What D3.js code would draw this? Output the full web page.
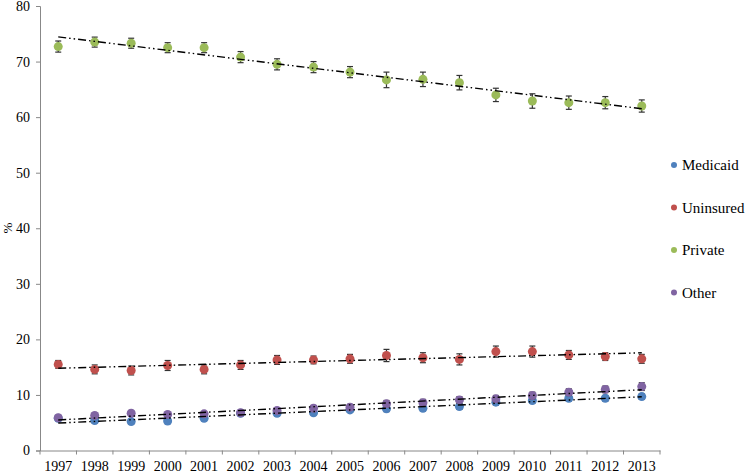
<!DOCTYPE html>
<html><head><meta charset="utf-8">
<script src="https://cdn.jsdelivr.net/npm/d3@7"></script>
<style>body{margin:0;background:#fff}svg{display:block}</style>
</head><body><svg id="c" width="750" height="473"></svg>
<script>
const years = ["1997","1998","1999","2000","2001","2002","2003","2004","2005","2006","2007","2008","2009","2010","2011","2012","2013"];
const medicaid = [5.8,5.4,5.2,5.3,5.8,6.7,6.7,6.8,7.3,7.5,7.6,7.9,8.7,9.0,9.4,9.4,9.7];
const medicaidErr = [0.4,0.4,0.4,0.4,0.4,0.4,0.4,0.4,0.4,0.5,0.5,0.5,0.5,0.5,0.5,0.5,0.5];
const uninsured = [15.5,14.6,14.4,15.3,14.6,15.4,16.3,16.3,16.5,17.1,16.7,16.4,17.8,17.8,17.2,16.9,16.5];
const uninsuredErr = [0.7,0.8,0.8,0.9,0.8,0.8,0.8,0.7,0.8,1.1,0.9,1.0,1.0,1.0,0.8,0.7,0.8];
const privateIns = [72.7,73.5,73.3,72.5,72.5,70.8,69.5,69.0,68.1,66.7,66.8,66.2,64.0,62.9,62.6,62.6,62.0];
const privateErr = [1.0,0.9,0.9,0.9,0.9,1.0,1.0,1.0,1.0,1.4,1.3,1.3,1.2,1.3,1.2,1.1,1.1];
const other = [5.9,6.3,6.7,6.5,6.6,6.8,7.2,7.6,7.8,8.4,8.6,9.1,9.3,9.9,10.5,11.0,11.5];
const otherErr = [0.4,0.4,0.5,0.4,0.4,0.4,0.5,0.5,0.5,0.6,0.6,0.6,0.6,0.6,0.6,0.6,0.7];
const seriesNames = ["Medicaid","Uninsured","Private","Other"];
const colors = ["#4F81BD","#C0504D","#9BBB59","#8064A2"];
const yTicks = [0,10,20,30,40,50,60,70,80];

const FONT = "'Liberation Serif', Tinos, 'Times New Roman', 'DejaVu Serif', serif";

const series = [
  {name:seriesNames[0], values:medicaid, err:medicaidErr, color:colors[0]},
  {name:seriesNames[1], values:uninsured, err:uninsuredErr, color:colors[1]},
  {name:seriesNames[2], values:privateIns, err:privateErr, color:colors[2]},
  {name:seriesNames[3], values:other, err:otherErr, color:colors[3]}
];

const svg = d3.select("#c");
const mLeft = 40, mRight = 660, mTop = 6, mBottom = 450.5;
const x = d3.scaleBand().domain(years).range([mLeft, mRight]);
const y = d3.scaleLinear().domain([0,80]).range([mBottom, mTop]);
const cx = d => x(d) + x.bandwidth()/2;

// y axis
const yAxis = svg.append("g").attr("transform",`translate(${mLeft},0)`)
  .call(d3.axisLeft(y).tickValues(yTicks).tickSize(4).tickPadding(6));
yAxis.attr("font-family", FONT).attr("font-size", 14);
yAxis.select(".domain").attr("stroke","#888");
yAxis.selectAll(".tick line").attr("stroke","#888");
yAxis.selectAll(".tick text").attr("fill","#000");

// x axis
const xAxis = svg.append("g").attr("transform",`translate(0,${mBottom})`)
  .call(d3.axisBottom(x).tickSize(0).tickPadding(11));
xAxis.attr("font-family", FONT).attr("font-size", 14);
xAxis.select(".domain").attr("stroke","#888");
xAxis.selectAll(".tick line").remove();
xAxis.selectAll(".tick text").attr("fill","#000");
const bounds = years.map(d => x(d)).concat([mRight]);
svg.append("g").selectAll("line").data(bounds).join("line")
  .attr("x1",d=>d).attr("x2",d=>d).attr("y1",mBottom).attr("y2",mBottom+4)
  .attr("stroke","#888");

// y label
svg.append("text").attr("transform",`translate(12,228) rotate(-90)`)
  .attr("text-anchor","middle").attr("font-family",FONT).attr("font-size",13).text("%");

// trendlines (least squares)
function fit(vals){
  const n = vals.length; const xs = d3.range(n);
  const mx = d3.mean(xs), my = d3.mean(vals);
  let num=0, den=0;
  xs.forEach((xi,i)=>{num+=(xi-mx)*(vals[i]-my); den+=(xi-mx)*(xi-mx);});
  const b = num/den, a = my - b*mx;
  return [a, a + b*(n-1)];
}

const g = svg.append("g");
series.forEach(s => {
  const eb = g.append("g");
  s.values.forEach((v,i) => {
    const px = cx(years[i]);
    const y1 = y(v - s.err[i]), y2 = y(v + s.err[i]);
    eb.append("line").attr("x1",px).attr("x2",px).attr("y1",y1).attr("y2",y2).attr("stroke","#333").attr("stroke-width",1.2);
    eb.append("line").attr("x1",px-3).attr("x2",px+3).attr("y1",y1).attr("y2",y1).attr("stroke","#333").attr("stroke-width",1.2);
    eb.append("line").attr("x1",px-3).attr("x2",px+3).attr("y1",y2).attr("y2",y2).attr("stroke","#333").attr("stroke-width",1.2);
  });
  g.append("g").selectAll("circle").data(s.values).join("circle")
    .attr("cx",(d,i)=>cx(years[i])).attr("cy",d=>y(d)).attr("r",4.5).attr("fill",s.color);
});
series.forEach(s => {
  const [a,b] = fit(s.values);
  g.append("line").attr("x1",cx(years[0])).attr("x2",cx(years[years.length-1]))
    .attr("y1",y(a)).attr("y2",y(b)).attr("stroke","#000").attr("stroke-width",1.4)
    .attr("stroke-dasharray","8,3,1.5,3,1.5,3");
});

// legend
const lg = svg.append("g").attr("font-family",FONT).attr("font-size",15);
series.forEach((s,i) => {
  const ly = 165 + i*42.5;
  lg.append("circle").attr("cx",674).attr("cy",ly).attr("r",3).attr("fill",s.color);
  lg.append("text").attr("x",682).attr("y",ly+5).text(s.name);
});
</script></body></html>
